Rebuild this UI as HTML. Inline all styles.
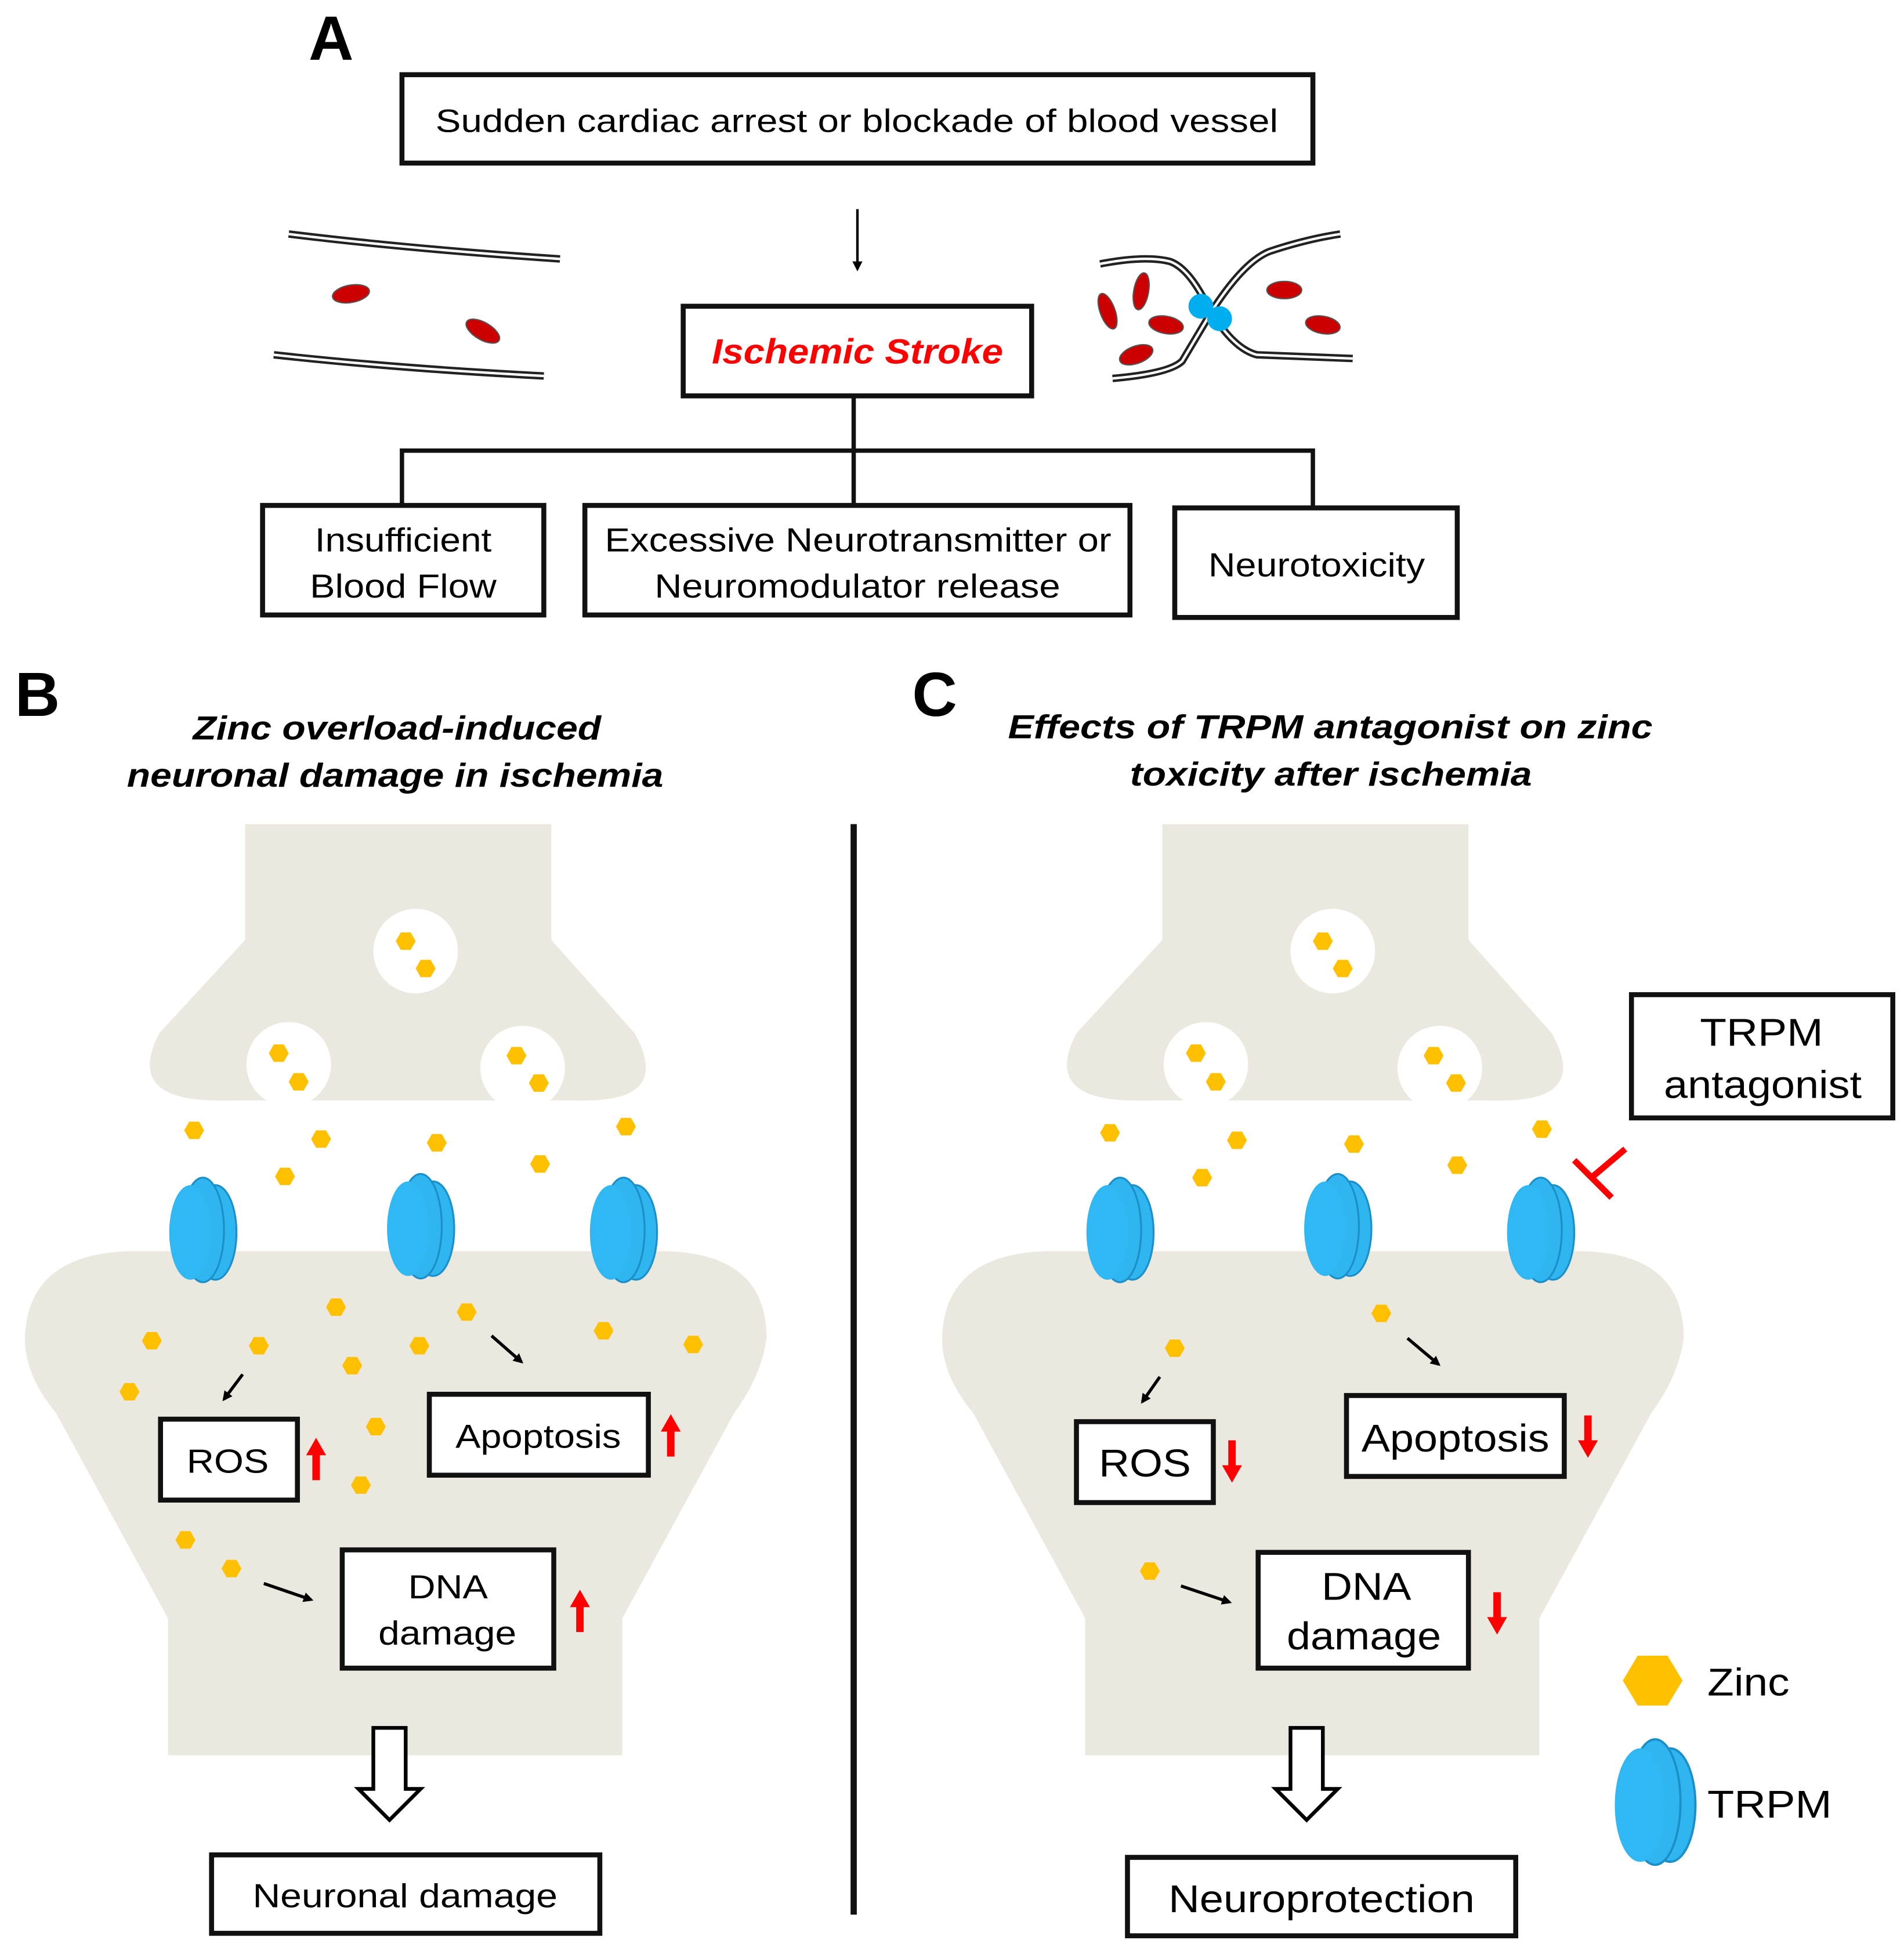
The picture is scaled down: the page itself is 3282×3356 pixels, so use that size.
<!DOCTYPE html>
<html><head><meta charset="utf-8"><style>
html,body{margin:0;padding:0;background:#fff}
svg{display:block}
text{font-family:"Liberation Sans",Arial,sans-serif}
</style></head><body>
<svg width="3282" height="3356" viewBox="0 0 1530 1564" preserveAspectRatio="none" xmlns="http://www.w3.org/2000/svg" font-family="Liberation Sans, Arial, sans-serif">
<defs>
<g id="zn"><polygon points="-8,0 -4,-7 4,-7 8,0 4,7 -4,7" fill="#FFC000"/></g>
<g id="ch">
<ellipse cx="10" cy="0" rx="17" ry="38" fill="#2FB5F0" stroke="#1C8FC8" stroke-width="1.5"/>
<ellipse cx="0" cy="-2" rx="17" ry="42" fill="#2FB5F0" stroke="#1C8FC8" stroke-width="1.5"/>
<ellipse cx="-10" cy="0" rx="17" ry="38" fill="#30B8F4"/>
</g>
<g id="neuron">
<path d="M197,662 L443,662 L443,755 L510,830 Q540,884 470,884 L175,884 Q100,884 128,830 L197,755 Z" fill="#EBE8DF"/>
<path d="M20,1075 Q22,1005 110,1005 L530,1005 Q616,1005 616,1075 Q612,1105 590,1135 L500,1300 L500,1410 L135,1410 L135,1300 L45,1135 Q20,1105 20,1075 Z" fill="#EBE8DF"/>
<circle cx="334" cy="764" r="34" fill="#fff"/>
<circle cx="232" cy="855" r="34" fill="#fff"/>
<circle cx="420" cy="858" r="34" fill="#fff"/>
<rect x="190" y="884" width="270" height="40" fill="#fff"/>
<use href="#zn" x="326" y="756"/><use href="#zn" x="342" y="778"/>
<use href="#zn" x="224" y="846"/><use href="#zn" x="240" y="869"/>
<use href="#zn" x="415" y="848"/><use href="#zn" x="433" y="870"/>
<use href="#ch" x="163" y="990"/><use href="#ch" x="338" y="987"/><use href="#ch" x="501" y="990"/>
<path d="M313,1462 L288,1437 L300,1437 L300,1388 L326,1388 L326,1437 L338,1437 Z" fill="#fff" stroke="#000" stroke-width="3" stroke-linejoin="miter"/>
</g>
<marker id="ah" markerWidth="8" markerHeight="8" refX="6" refY="4" orient="auto" markerUnits="userSpaceOnUse"><path d="M0,0 L8,4 L0,8 Z" fill="#000"/></marker>
<g id="up"><path d="M0,-18 L-8,-4 L-3,-4 L-3,16 L3,16 L3,-4 L8,-4 Z" fill="#F00"/></g>
<g id="dn"><path d="M0,18 L-8,4 L-3,4 L-3,-16 L3,-16 L3,4 L8,4 Z" fill="#F00"/></g>
</defs>

<!-- Panel A -->
<text x="248" y="48" font-size="50" font-weight="bold">A</text>
<rect x="323" y="60" width="732" height="71" fill="#fff" stroke="#111" stroke-width="4"/>
<text x="350" y="106" font-size="26" textLength="677" lengthAdjust="spacingAndGlyphs">Sudden cardiac arrest or blockade of blood vessel</text>
<line x1="689" y1="168" x2="689" y2="216" stroke="#000" stroke-width="2" marker-end="url(#ah)"/>
<rect x="549" y="246" width="280" height="72" fill="#fff" stroke="#111" stroke-width="4"/>
<text x="572" y="292" font-size="28" font-weight="bold" font-style="italic" fill="#F00" textLength="234" lengthAdjust="spacingAndGlyphs">Ischemic Stroke</text>
<path d="M686,318 V406 M323,406 V362 H1055 V408" fill="none" stroke="#111" stroke-width="3.5"/>
<rect x="211" y="406" width="226" height="88" fill="#fff" stroke="#111" stroke-width="4"/>
<text x="253" y="443" font-size="27" textLength="142" lengthAdjust="spacingAndGlyphs">Insufficient</text>
<text x="249" y="480" font-size="27" textLength="150" lengthAdjust="spacingAndGlyphs">Blood Flow</text>
<rect x="470" y="406" width="438" height="88" fill="#fff" stroke="#111" stroke-width="4"/>
<text x="486" y="443" font-size="27" textLength="407" lengthAdjust="spacingAndGlyphs">Excessive Neurotransmitter or</text>
<text x="526" y="480" font-size="27" textLength="326" lengthAdjust="spacingAndGlyphs">Neuromodulator release</text>
<rect x="944" y="408" width="227" height="88" fill="#fff" stroke="#111" stroke-width="4"/>
<text x="971" y="463" font-size="27" textLength="174" lengthAdjust="spacingAndGlyphs">Neurotoxicity</text>

<!-- left vessel -->
<g fill="none">
<path d="M232,188 Q330,200 450,208" stroke="#222" stroke-width="6"/><path d="M232,188 Q330,200 450,208" stroke="#fff" stroke-width="2"/>
<path d="M220,285 Q320,296 437,302" stroke="#222" stroke-width="6"/><path d="M220,285 Q320,296 437,302" stroke="#fff" stroke-width="2"/>
</g>
<ellipse cx="282" cy="236" rx="15" ry="7" transform="rotate(-10 282 236)" fill="#C00" stroke="#555"/>
<ellipse cx="388" cy="266" rx="15" ry="7" transform="rotate(30 388 266)" fill="#C00" stroke="#555"/>
<!-- right vessel -->
<g fill="none">
<path d="M884,212 Q920,205 940,210 Q955,215 970,245 Q990,280 1010,285 L1087,288" stroke="#222" stroke-width="6"/>
<path d="M884,212 Q920,205 940,210 Q955,215 970,245 Q990,280 1010,285 L1087,288" stroke="#fff" stroke-width="2"/>
<path d="M894,304 Q940,300 950,290 Q962,270 975,248 Q1000,210 1020,202 Q1050,192 1077,188" stroke="#222" stroke-width="6"/>
<path d="M894,304 Q940,300 950,290 Q962,270 975,248 Q1000,210 1020,202 Q1050,192 1077,188" stroke="#fff" stroke-width="2"/>
</g>
<circle cx="965" cy="246" r="10" fill="#00AEEF"/><circle cx="980" cy="256" r="10" fill="#00AEEF"/>
<ellipse cx="890" cy="250" rx="6" ry="15" transform="rotate(-20 890 250)" fill="#C00" stroke="#555"/>
<ellipse cx="917" cy="234" rx="6" ry="15" transform="rotate(10 917 234)" fill="#C00" stroke="#555"/>
<ellipse cx="937" cy="261" rx="14" ry="7" transform="rotate(10 937 261)" fill="#C00" stroke="#555"/>
<ellipse cx="913" cy="285" rx="14" ry="7" transform="rotate(-20 913 285)" fill="#C00" stroke="#555"/>
<ellipse cx="1032" cy="233" rx="14" ry="7" fill="#C00" stroke="#555"/>
<ellipse cx="1063" cy="261" rx="14" ry="7" transform="rotate(10 1063 261)" fill="#C00" stroke="#555"/>

<!-- Panel titles -->
<text x="12" y="575" font-size="50" font-weight="bold">B</text>
<text x="733" y="575" font-size="50" font-weight="bold">C</text>
<text x="155" y="594" font-size="27" font-weight="bold" font-style="italic" textLength="328" lengthAdjust="spacingAndGlyphs">Zinc overload-induced</text>
<text x="102" y="632" font-size="27" font-weight="bold" font-style="italic" textLength="431" lengthAdjust="spacingAndGlyphs">neuronal damage in ischemia</text>
<text x="810" y="593" font-size="27" font-weight="bold" font-style="italic" textLength="518" lengthAdjust="spacingAndGlyphs">Effects of TRPM antagonist on zinc</text>
<text x="908" y="631" font-size="27" font-weight="bold" font-style="italic" textLength="323" lengthAdjust="spacingAndGlyphs">toxicity after ischemia</text>
<line x1="686" y1="662" x2="686" y2="1538" stroke="#111" stroke-width="5"/>

<!-- Panel B -->
<use href="#neuron"/>
<g>
<use href="#zn" x="156" y="908"/><use href="#zn" x="258" y="915"/><use href="#zn" x="229" y="945"/>
<use href="#zn" x="351" y="918"/><use href="#zn" x="434" y="935"/><use href="#zn" x="503" y="905"/>
<use href="#zn" x="270" y="1050"/><use href="#zn" x="375" y="1054"/><use href="#zn" x="122" y="1077"/>
<use href="#zn" x="208" y="1081"/><use href="#zn" x="337" y="1081"/><use href="#zn" x="485" y="1069"/>
<use href="#zn" x="557" y="1080"/><use href="#zn" x="104" y="1118"/><use href="#zn" x="283" y="1097"/>
<use href="#zn" x="302" y="1146"/><use href="#zn" x="290" y="1193"/><use href="#zn" x="149" y="1237"/>
<use href="#zn" x="186" y="1260"/>
</g>
<line x1="195" y1="1104" x2="180" y2="1124" stroke="#000" stroke-width="2.5" marker-end="url(#ah)"/>
<line x1="395" y1="1073" x2="419" y2="1094" stroke="#000" stroke-width="2.5" marker-end="url(#ah)"/>
<line x1="212" y1="1272" x2="250" y2="1285" stroke="#000" stroke-width="2.5" marker-end="url(#ah)"/>
<rect x="129" y="1140" width="110" height="65" fill="#fff" stroke="#111" stroke-width="4"/>
<text x="150" y="1183" font-size="27" textLength="66" lengthAdjust="spacingAndGlyphs">ROS</text>
<rect x="345" y="1120" width="176" height="65" fill="#fff" stroke="#111" stroke-width="4"/>
<text x="366" y="1163" font-size="27" textLength="133" lengthAdjust="spacingAndGlyphs">Apoptosis</text>
<rect x="275" y="1245" width="170" height="95" fill="#fff" stroke="#111" stroke-width="4"/>
<text x="328" y="1284" font-size="27" textLength="64" lengthAdjust="spacingAndGlyphs">DNA</text>
<text x="304" y="1321" font-size="27" textLength="111" lengthAdjust="spacingAndGlyphs">damage</text>
<use href="#up" x="254" y="1173"/><use href="#up" x="539" y="1154"/><use href="#up" x="466" y="1295"/>
<rect x="170" y="1490" width="312" height="63" fill="#fff" stroke="#111" stroke-width="4"/>
<text x="203" y="1532" font-size="27" textLength="245" lengthAdjust="spacingAndGlyphs">Neuronal  damage</text>

<!-- Panel C -->
<use href="#neuron" x="737"/>
<g>
<use href="#zn" x="892" y="910"/><use href="#zn" x="994" y="916"/><use href="#zn" x="966" y="946"/>
<use href="#zn" x="1088" y="919"/><use href="#zn" x="1171" y="936"/><use href="#zn" x="1239" y="907"/>
<use href="#zn" x="1110" y="1055"/><use href="#zn" x="944" y="1083"/><use href="#zn" x="924" y="1262"/>
</g>
<line x1="932" y1="1106" x2="918" y2="1126" stroke="#000" stroke-width="2.5" marker-end="url(#ah)"/>
<line x1="1131" y1="1075" x2="1156" y2="1096" stroke="#000" stroke-width="2.5" marker-end="url(#ah)"/>
<line x1="949" y1="1274" x2="988" y2="1287" stroke="#000" stroke-width="2.5" marker-end="url(#ah)"/>
<rect x="865" y="1142" width="110" height="65" fill="#fff" stroke="#111" stroke-width="4"/>
<text x="883" y="1186" font-size="31" textLength="74" lengthAdjust="spacingAndGlyphs">ROS</text>
<rect x="1082" y="1121" width="175" height="65" fill="#fff" stroke="#111" stroke-width="4"/>
<text x="1094" y="1166" font-size="31" textLength="151" lengthAdjust="spacingAndGlyphs">Apoptosis</text>
<rect x="1011" y="1247" width="169" height="93" fill="#fff" stroke="#111" stroke-width="4"/>
<text x="1062" y="1285" font-size="31" textLength="72" lengthAdjust="spacingAndGlyphs">DNA</text>
<text x="1034" y="1325" font-size="31" textLength="124" lengthAdjust="spacingAndGlyphs">damage</text>
<use href="#dn" x="990" y="1173"/><use href="#dn" x="1276" y="1153"/><use href="#dn" x="1203" y="1295"/>
<rect x="906" y="1492" width="312" height="63" fill="#fff" stroke="#111" stroke-width="4"/>
<text x="939" y="1536" font-size="31" textLength="246" lengthAdjust="spacingAndGlyphs">Neuroprotection</text>
<rect x="1311" y="799" width="210" height="99" fill="#fff" stroke="#111" stroke-width="4"/>
<text x="1366" y="840" font-size="31" textLength="99" lengthAdjust="spacingAndGlyphs">TRPM</text>
<text x="1337" y="882" font-size="31" textLength="159" lengthAdjust="spacingAndGlyphs">antagonist</text>
<path d="M1306,923 L1280,945 M1265,932 L1295,962" stroke="#F00" stroke-width="5" fill="none"/>
<!-- legend -->
<polygon points="1304,1350 1316,1330 1340,1330 1352,1350 1340,1370 1316,1370" fill="#FFC000"/>
<text x="1372" y="1362" font-size="31" textLength="66" lengthAdjust="spacingAndGlyphs">Zinc</text>
<use href="#ch" x="1330" y="1450" transform="translate(-266 -290) scale(1.2)"/>
<text x="1372" y="1460" font-size="31" textLength="100" lengthAdjust="spacingAndGlyphs">TRPM</text>
</svg>
</body></html>
